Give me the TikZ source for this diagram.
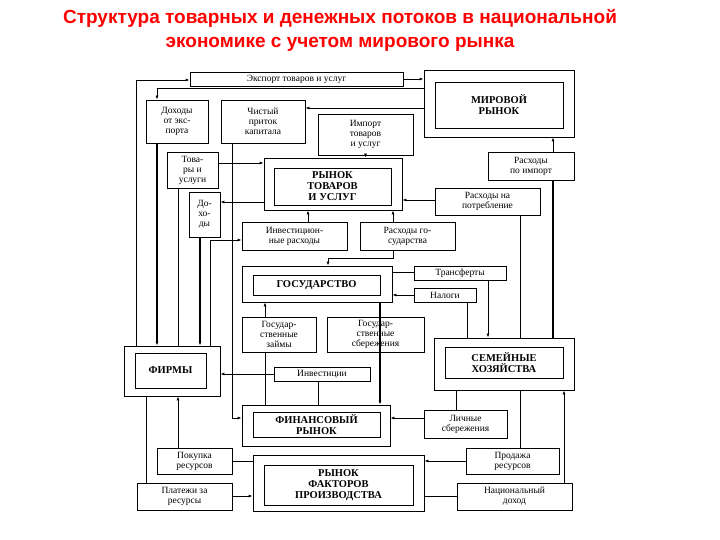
\documentclass[tikz,border=0pt]{standalone}
\usepackage{fontspec}
\setmainfont{Liberation Serif}
\newfontfamily\titlefont{Liberation Sans}
\usetikzlibrary{arrows.meta}
\begin{document}
\begin{tikzpicture}[x=1pt,y=-1pt,
  bx/.style={draw,line width=0.8pt,align=center,font=\fontsize{9.5}{10}\selectfont,inner sep=0pt},
  big/.style={bx,font=\bfseries\fontsize{10.5}{11}\selectfont},
  ln/.style={line width=0.8pt},
  th/.style={line width=1.8pt},
  ar/.style={-{Latex[length=4pt,width=3pt]}}]
\useasboundingbox (0,0) rectangle (720,540);
\node[font=\titlefont\bfseries\fontsize{19}{24}\selectfont,text=red,align=center] (title) at (340,30) {Структура товарных и денежных потоков в национальной\\экономике с учетом мирового рынка};
\newcommand{\bxat}[7]{\node[#1,minimum width=#4-#2,minimum height=#5-#3] (#6) at ({(#2+#4)/2},{(#3+#5)/2}) {#7};}
\bxat{bx}{190}{72}{403}{86}{exp}{Экспорт товаров и услуг}
\bxat{bx}{424}{70}{574}{137}{mr}{}
\bxat{big}{435}{82}{563}{128}{mri}{МИРОВОЙ\\РЫНОК}
\bxat{bx}{146}{100}{208}{143}{dexp}{Доходы\\от экс-\\порта}
\bxat{bx}{221}{100}{305}{143}{cap}{Чистый\\приток\\капитала}
\bxat{bx}{318}{114}{413}{155}{imp}{Импорт\\товаров\\и услуг}
\bxat{bx}{167}{152}{218}{188}{tov}{Това-\\ры и\\услуги}
\bxat{bx}{264}{158}{402}{210}{rt}{}
\bxat{big}{274}{168}{391}{205}{rti}{РЫНОК\\ТОВАРОВ\\И УСЛУГ}
\bxat{bx}{488}{152}{574}{180}{rimp}{Расходы\\по импорт}
\bxat{bx}{435}{188}{540}{215}{rpot}{Расходы на\\потребление}
\bxat{bx}{189}{192}{220}{237}{doh}{До-\\хо-\\ды}
\bxat{bx}{242}{222}{347}{250}{inv}{Инвестицион-\\ные расходы}
\bxat{bx}{360}{222}{455}{250}{rgos}{Расходы го-\\сударства}
\bxat{bx}{242}{266}{392}{302}{gos}{}
\bxat{big}{253}{275}{380}{295}{gosi}{ГОСУДАРСТВО}
\bxat{bx}{414}{266}{506}{280}{tr}{Трансферты}
\bxat{bx}{414}{288}{476}{302}{nal}{Налоги}
\bxat{bx}{242}{317}{316}{352}{gz}{Государ-\\ственные\\займы}
\bxat{bx}{327}{317}{424}{352}{gsb}{Государ-\\ственные\\сбережения}
\bxat{bx}{434}{338}{574}{390}{sh}{}
\bxat{big}{445}{347}{563}{378}{shi}{СЕМЕЙНЫЕ\\ХОЗЯЙСТВА}
\bxat{bx}{124}{346}{220}{396}{fr}{}
\bxat{big}{135}{353}{206}{388}{fri}{ФИРМЫ}
\bxat{bx}{274}{367}{370}{381}{invs}{Инвестиции}
\bxat{bx}{242}{405}{390}{446}{fin}{}
\bxat{big}{253}{412}{380}{437}{fini}{ФИНАНСОВЫЙ\\РЫНОК}
\bxat{bx}{424}{410}{507}{438}{ls}{Личные\\сбережения}
\bxat{bx}{157}{448}{232}{474}{pok}{Покупка\\ресурсов}
\bxat{bx}{253}{455}{424}{511}{rf}{}
\bxat{big}{264}{465}{413}{505}{rfi}{РЫНОК\\ФАКТОРОВ\\ПРОИЗВОДСТВА}
\bxat{bx}{466}{448}{559}{474}{prod}{Продажа\\ресурсов}
\bxat{bx}{137}{483}{232}{510}{pl}{Платежи за\\ресурсы}
\bxat{bx}{457}{483}{572}{510}{nd}{Национальный\\доход}
% connectors
\draw[ln,ar] (fr.north -| 136,0) -- (136,80) -- (exp.west |- 0,80) ;
\draw[ln,ar] (exp.east) -- (mr.west |- exp.east);
\draw[ln,ar] (mr.west |- 0,88) -- (157,88) -- (dexp.north -| 157,0);
\draw[ln,ar] (mr.west |- 0,108) -- (cap.east |- 0,108);
\draw[th,ar] (dexp.south -| 157,0) -- (fr.north -| 157,0);
\draw[ln,ar] (cap.south -| 232,0) -- (232,418) -- (fin.west |- 0,418);
\draw[ln,ar] (imp.south) -- (rt.north -| imp.south);
\draw[ln,ar] (tov.east |- 0,163) -- (rt.west |- 0,163);
\draw[ln] (fr.north -| 178,0) -- (tov.south -| 178,0);
\draw[ln,ar] (rt.west |- 0,202) -- (doh.east |- 0,202);
\draw[th,ar] (doh.south -| 200,0) -- (fr.north -| 200,0);
\draw[ln,ar] (inv.north -| 308,0) -- (rt.south -| 308,0);
\draw[ln,ar] (fr.north -| 210,0) -- (210,240) -- (inv.west |- 0,240);
\draw[ln,ar] (rgos.north -| 393,0) -- (rt.south -| 393,0);
\draw[ln,ar] (rgos.south -| 393,0) -- (393,258) -- (328,258) -- (gos.north -| 328,0);
\draw[ln,ar] (rpot.west |- 0,200) -- (rt.east |- 0,200);
\draw[ln] (rpot.south -| 520,0) -- (sh.north -| 520,0);
\draw[ln,ar] (rimp.north -| 553,0) -- (mr.south -| 553,0);
\draw[th] (rimp.south -| 553,0) -- (sh.north -| 553,0);
\draw[ln] (gos.east |- 0,272) -- (tr.west |- 0,272);
\draw[ln,ar] (tr.south -| 488,0) -- (sh.north -| 488,0);
\draw[ln] (sh.north -| 467,0) -- (nal.south -| 467,0);
\draw[ln,ar] (nal.west |- 0,295) -- (gos.east |- 0,295);
\draw[ln,ar] (gz.north -| 265,0) -- (gos.south -| 265,0);
\draw[ln] (gz.south -| 265,0) -- (fin.north -| 265,0);
\draw[th,ar] (gos.south -| 380,0) -- (fin.north -| 380,0);
\draw[ln] (fin.north -| 318,0) -- (invs.south -| 318,0);
\draw[ln,ar] (invs.west) -- (fr.east |- invs.west);
\draw[ln,ar] (ls.west |- 0,418) -- (fin.east |- 0,418);
\draw[ln] (sh.south -| 456,0) -- (ls.north -| 456,0);
\draw[ln,ar] (pok.north -| 178,0) -- (fr.south -| 178,0);
\draw[ln] (pok.east |- 0,461) -- (rf.west |- 0,461);
\draw[ln] (fr.south -| 146,0) -- (pl.north -| 146,0);
\draw[ln,ar] (pl.east |- 0,496) -- (rf.west |- 0,496);
\draw[ln,ar] (prod.west |- 0,461) -- (rf.east |- 0,461);
\draw[ln] (prod.north -| 520,0) -- (sh.south -| 520,0);
\draw[ln] (rf.east |- 0,496) -- (nd.west |- 0,496);
\draw[ln,ar] (nd.north -| 564,0) -- (sh.south -| 564,0);
\end{tikzpicture}
\end{document}
